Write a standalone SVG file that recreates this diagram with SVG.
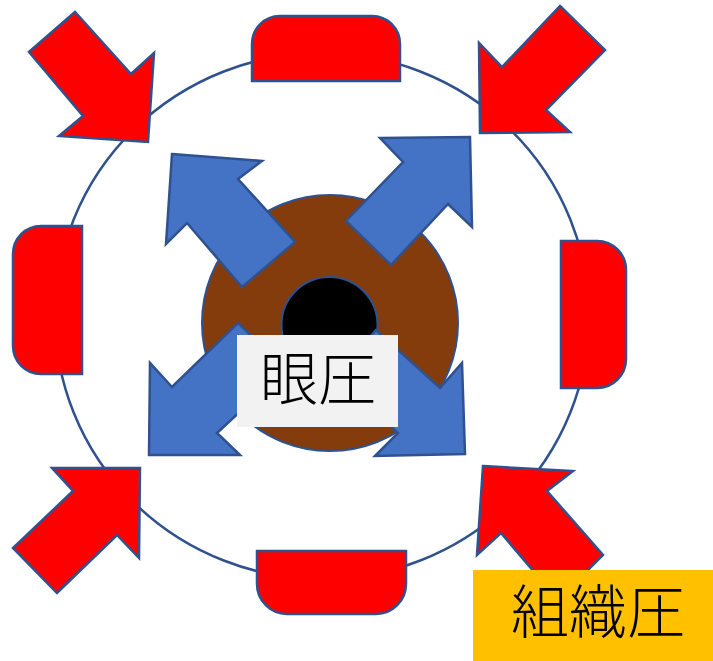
<svg xmlns="http://www.w3.org/2000/svg" width="713" height="661" viewBox="0 0 713 661">
  <style>
    .outline { stroke: #2F528F; stroke-width: 2.5; stroke-linejoin: miter; }
    .red { fill: #FF0000; }
    .blue { fill: #4472C4; }
    .ring { fill: none; stroke: #2F528F; stroke-width: 2.5; }
    .label { font-family: "Noto Sans CJK JP", "Noto Sans CJK SC", sans-serif; font-weight: 300; font-size: 58px; fill: #000000; text-anchor: middle; }
  </style>

  <!-- outer boundary ring -->
  <g id="ring">
    <ellipse class="ring" cx="322" cy="316" rx="267" ry="263"/>
  </g>

  <!-- red pads on the ring -->
  <g id="pad-top">
    <path class="red outline" d="M252,81 V44 A28,28 0 0 1 280,16 H372 A28,28 0 0 1 400,44 V81 Z"/>
  </g>
  <g id="pad-left">
    <path class="red outline" d="M82,226 H41 A28,28 0 0 0 13,254 V346 A28,28 0 0 0 41,374 H82 Z"/>
  </g>
  <g id="pad-right">
    <path class="red outline" d="M561,241 H597 A29,29 0 0 1 626,270 V359 A29,29 0 0 1 597,388 H561 Z"/>
  </g>
  <g id="pad-bottom">
    <path class="red outline" d="M257,551 H406 V584 A30,30 0 0 1 376,614 H287 A30,30 0 0 1 257,584 Z"/>
  </g>

  <!-- inward red arrows -->
  <g id="arrow-in-top-left">
    <polygon class="red outline" points="75,12 29,52 83,116 59,136 148,142 154,53 131,74"/>
  </g>
  <g id="arrow-in-top-right">
    <polygon class="red outline" points="560,6 605,50 546,110 570,132 480,133 479,43 502,67"/>
  </g>
  <g id="arrow-in-bottom-left">
    <polygon class="red outline" points="52,468 140,468 139,558 117,535 57,593 13,548 73,491"/>
  </g>
  <g id="arrow-in-bottom-right">
    <polygon class="red outline" points="483,466 573,471 547,491 603,555 558,600 501,533 477,555"/>
  </g>

  <!-- eye body -->
  <g id="eye">
    <circle cx="330" cy="323" r="128" fill="#843C0C" stroke="#2F528F" stroke-width="2"/>
    <circle cx="329.5" cy="325" r="48" fill="#000000" stroke="#2F528F" stroke-width="2"/>
  </g>

  <!-- outward blue arrows -->
  <g id="arrow-out-top-left">
    <polygon class="blue outline" points="172,154 262,161 238,179 295,242 242,287 187,223 166,244"/>
  </g>
  <g id="arrow-out-top-right">
    <polygon class="blue outline" points="380,138 470,137 472,227 448,204 391,265 346,221 403,162"/>
  </g>
  <g id="arrow-out-bottom-left">
    <polygon class="blue outline" points="238,323 286,369 217,433 240,455 149,455 150,363 172,387"/>
  </g>
  <g id="arrow-out-bottom-right">
    <polygon class="blue outline" points="376,330 440,388 462,363 465,454 375,456 398,433 336,376"/>
  </g>

  <!-- labels -->
  <g id="label-iop">
    <rect x="237" y="335" width="161" height="92" fill="#F2F2F2"/>
    <text class="label" x="318" y="400">眼圧</text>
  </g>
  <g id="label-tissue">
    <rect x="473" y="570" width="240" height="91" fill="#FFC000"/>
    <text class="label" x="598" y="633">組織圧</text>
  </g>
</svg>
